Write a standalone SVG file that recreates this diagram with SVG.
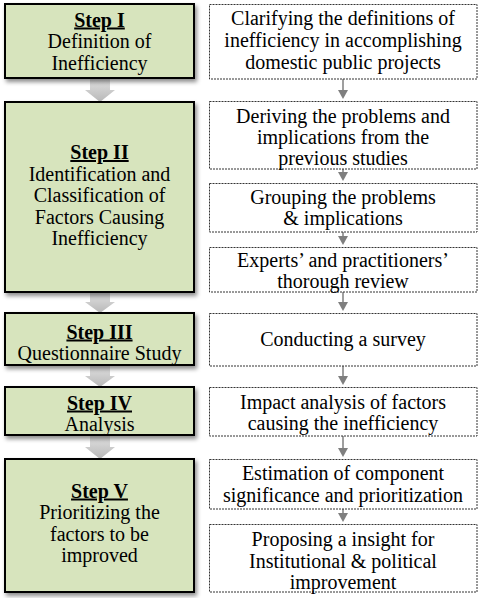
<svg xmlns="http://www.w3.org/2000/svg" width="480" height="598" viewBox="0 0 480 598">
<style>
text{font-family:"Liberation Serif","Times New Roman",serif;font-size:20px;fill:#000;text-anchor:middle}
.hd{font-weight:bold;text-decoration:underline}
.step{fill:#d7e4bd;stroke:#000;stroke-width:2}
.task{fill:#fff;stroke:#333;stroke-width:1;stroke-dasharray:2 1}
.conn line{stroke:#7f7f7f;stroke-width:1.5}
.conn polygon.h{fill:#7f7f7f}
.big{fill:url(#g)}
</style>
<defs>
<linearGradient id="g" x1="0" y1="0" x2="0" y2="1">
<stop offset="0" stop-color="#e2e2e2"/>
<stop offset="1" stop-color="#b8b8b8"/>
</linearGradient>
<filter id="sh" x="-10%" y="-10%" width="125%" height="130%">
<feDropShadow dx="2" dy="3" stdDeviation="2" flood-color="#000" flood-opacity="0.45"/>
</filter>
</defs>
<rect width="480" height="598" fill="#fff"/>
<g id="connectors" class="conn">
<polygon class="big" points="90,78 110,78 110,90 115,90 100,102 85,90 90,90"/>
<polygon class="big" points="90,292 110,292 110,302 115,302 100,313 85,302 90,302"/>
<polygon class="big" points="90,365 110,365 110,376 115,376 100,387 85,376 90,376"/>
<polygon class="big" points="90,435 110,435 110,447 115,447 100,459 85,447 90,447"/>
<line x1="343" y1="79" x2="343" y2="91"/><polygon class="h" points="338,90 348,90 343,99"/>
<line x1="343" y1="169" x2="343" y2="173"/><polygon class="h" points="338,172 348,172 343,181"/>
<line x1="343" y1="232" x2="343" y2="237"/><polygon class="h" points="338,236 348,236 343,245"/>
<line x1="343" y1="292" x2="343" y2="303"/><polygon class="h" points="338,302 348,302 343,311"/>
<line x1="343" y1="366" x2="343" y2="377"/><polygon class="h" points="338,376 348,376 343,385"/>
<line x1="343" y1="436" x2="343" y2="449"/><polygon class="h" points="338,448 348,448 343,457"/>
<line x1="343" y1="509" x2="343" y2="514"/><polygon class="h" points="338,513 348,513 343,522"/>
</g>
<g id="step1">
<rect class="step" x="5" y="4" width="189" height="74" filter="url(#sh)"/>
<text x="99.5" y="26.5" class="hd">Step I</text>
<text x="99.5" y="48">Definition of</text>
<text x="99.5" y="69.5">Inefficiency</text>
</g>
<g id="step2">
<rect class="step" x="5" y="102" width="189" height="190" filter="url(#sh)"/>
<text x="99.5" y="159" class="hd">Step II</text>
<text x="99.5" y="180.5">Identification and</text>
<text x="99.5" y="202">Classification of</text>
<text x="99.5" y="223.5">Factors Causing</text>
<text x="99.5" y="245">Inefficiency</text>
</g>
<g id="step3">
<rect class="step" x="5" y="313" width="189" height="52" filter="url(#sh)"/>
<text x="99.5" y="338.5" class="hd">Step III</text>
<text x="99.5" y="359.5">Questionnaire Study</text>
</g>
<g id="step4">
<rect class="step" x="5" y="387" width="189" height="48" filter="url(#sh)"/>
<text x="99.5" y="409.5" class="hd">Step IV</text>
<text x="99.5" y="431">Analysis</text>
</g>
<g id="step5">
<rect class="step" x="5" y="459" width="189" height="133" filter="url(#sh)"/>
<text x="99.5" y="497.5" class="hd">Step V</text>
<text x="99.5" y="519">Prioritizing the</text>
<text x="99.5" y="540.5">factors to be</text>
<text x="99.5" y="562">improved</text>
</g>
<g id="task1">
<rect class="task" x="209.5" y="4.5" width="267.5" height="74.5"/>
<text x="343" y="25">Clarifying the definitions of</text>
<text x="343" y="47">inefficiency in accomplishing</text>
<text x="343" y="69">domestic public projects</text>
</g>
<g id="task2">
<rect class="task" x="209.5" y="101.5" width="267.5" height="67.5"/>
<text x="343" y="122.5">Deriving the problems and</text>
<text x="343" y="144">implications from the</text>
<text x="343" y="165">previous studies</text>
</g>
<g id="task3">
<rect class="task" x="209.5" y="183.5" width="267.5" height="48.5"/>
<text x="343" y="203.5">Grouping the problems</text>
<text x="343" y="225">&amp; implications</text>
</g>
<g id="task4">
<rect class="task" x="209.5" y="247.5" width="267.5" height="44.5"/>
<text x="343" y="267">Experts’ and practitioners’</text>
<text x="343" y="288">thorough review</text>
</g>
<g id="task5">
<rect class="task" x="209.5" y="313.5" width="267.5" height="52.5"/>
<text x="343" y="345.5">Conducting a survey</text>
</g>
<g id="task6">
<rect class="task" x="209.5" y="387.5" width="267.5" height="48.5"/>
<text x="343" y="409">Impact analysis of factors</text>
<text x="343" y="430">causing the inefficiency</text>
</g>
<g id="task7">
<rect class="task" x="209.5" y="459.5" width="267.5" height="49.5"/>
<text x="343" y="480">Estimation of component</text>
<text x="343" y="502">significance and prioritization</text>
</g>
<g id="task8">
<rect class="task" x="209.5" y="524.5" width="267.5" height="67.5"/>
<text x="343" y="546">Proposing a insight for</text>
<text x="343" y="567.5">Institutional &amp; political</text>
<text x="343" y="589">improvement</text>
</g>
</svg>
